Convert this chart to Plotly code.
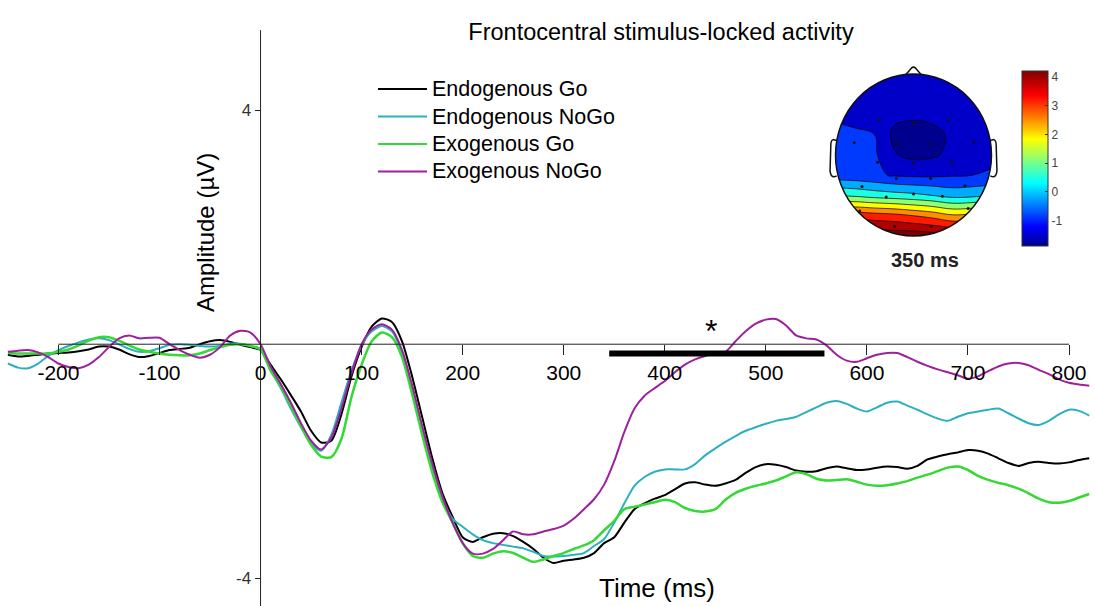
import numpy as np
import plotly.graph_objects as go

# ---------------------------------------------------------------- ERP data
time_ms = list(range(-250, 821, 10))

endo_go = [
    -0.18, -0.21, -0.20, -0.18, -0.16, -0.15, -0.14, -0.12, -0.09, -0.04,
    -0.04, -0.09, -0.17, -0.22, -0.20, -0.15, -0.10, -0.08, -0.06, 0.00,
    0.05, 0.07, 0.04, -0.01, -0.05,
    -0.10, -0.35, -0.60, -0.87, -1.15, -1.48, -1.68, -1.65, -1.20, -0.55,
    -0.05, 0.30, 0.44, 0.38, 0.05, -0.55, -1.25, -1.95, -2.55, -2.95,
    -3.30, -3.38, -3.30, -3.24, -3.23, -3.28, -3.38, -3.50, -3.65, -3.74,
    -3.70, -3.68, -3.65, -3.57, -3.40, -3.30, -3.05, -2.82, -2.72, -2.64,
    -2.58, -2.48, -2.38, -2.36, -2.40, -2.42, -2.38, -2.32, -2.20, -2.10,
    -2.05, -2.06, -2.10, -2.16, -2.18, -2.17, -2.12, -2.09, -2.12, -2.15,
    -2.14, -2.11, -2.09, -2.10, -2.13, -2.08, -1.97, -1.92, -1.88, -1.85,
    -1.81, -1.82, -1.87, -1.95, -2.03, -2.08, -2.03, -2.01, -2.03, -2.04,
    -2.02, -1.98, -1.95,
]

endo_nogo = [
    -0.33, -0.40, -0.41, -0.33, -0.20, -0.10, -0.03, 0.03, 0.08, 0.10,
    0.07, 0.00, -0.08, -0.13, -0.12, -0.07, -0.01, 0.00, -0.01, -0.03,
    -0.04, -0.03, 0.01, 0.01, -0.03,
    -0.10, -0.45, -0.75, -1.10, -1.42, -1.70, -1.82, -1.55, -1.00, -0.45,
    -0.02, 0.22, 0.31, 0.22, -0.15, -0.80, -1.50, -2.15, -2.65, -2.98,
    -3.12, -3.25, -3.35, -3.40, -3.43, -3.46, -3.49, -3.55, -3.62, -3.63,
    -3.62, -3.60, -3.57, -3.45, -3.33, -3.05, -2.72, -2.42, -2.27, -2.18,
    -2.14, -2.14, -2.14, -2.05, -1.90, -1.78, -1.67, -1.57, -1.48, -1.42,
    -1.36, -1.31, -1.28, -1.24, -1.16, -1.08, -1.00, -0.97, -1.02, -1.10,
    -1.15, -1.08, -1.00, -0.98, -1.05, -1.12, -1.20, -1.27, -1.31, -1.24,
    -1.18, -1.15, -1.12, -1.10, -1.18, -1.27, -1.35, -1.38, -1.31, -1.20,
    -1.12, -1.14, -1.22,
]

exo_go = [
    -0.15, -0.16, -0.16, -0.16, -0.16, -0.13, -0.09, -0.02, 0.06, 0.12,
    0.12, 0.06, -0.02, -0.09, -0.13, -0.16, -0.18, -0.19, -0.19, -0.16,
    -0.10, -0.05, -0.01, 0.00, -0.03,
    -0.08, -0.45, -0.72, -1.05, -1.40, -1.72, -1.92, -1.93, -1.62, -0.90,
    -0.35, 0.05, 0.20, 0.12, -0.22, -0.85, -1.55, -2.20, -2.70, -3.05,
    -3.40, -3.62, -3.65, -3.58, -3.54, -3.57, -3.65, -3.72, -3.68, -3.62,
    -3.57, -3.50, -3.44, -3.35, -3.18, -3.02, -2.82, -2.78, -2.74, -2.70,
    -2.66, -2.70, -2.80, -2.85, -2.86, -2.82, -2.66, -2.54, -2.47, -2.42,
    -2.38, -2.33, -2.26, -2.19, -2.22, -2.30, -2.33, -2.32, -2.31, -2.35,
    -2.40, -2.42, -2.41, -2.38, -2.34, -2.28, -2.23, -2.17, -2.11, -2.09,
    -2.15, -2.25, -2.32, -2.37, -2.41, -2.47, -2.55, -2.64, -2.70, -2.71,
    -2.68, -2.62, -2.56,
]

exo_nogo = [
    -0.13, -0.11, -0.10, -0.14, -0.22, -0.33, -0.39, -0.41, -0.35, -0.22,
    -0.05, 0.10, 0.15, 0.10, 0.11, 0.11, 0.00, -0.10, -0.18, -0.23,
    -0.18, -0.05, 0.15, 0.23, 0.20,
    0.00, -0.38, -0.68, -1.00, -1.35, -1.65, -1.80, -1.60, -1.10, -0.50,
    0.00, 0.25, 0.34, 0.25, -0.10, -0.70, -1.40, -2.05, -2.60, -3.05,
    -3.40, -3.58, -3.58, -3.50, -3.35, -3.20, -3.25, -3.25, -3.20, -3.16,
    -3.10, -2.98, -2.82, -2.65, -2.40, -2.00, -1.50, -1.10, -0.88, -0.75,
    -0.63, -0.48, -0.35, -0.26, -0.20, -0.17, -0.13, 0.05, 0.22, 0.35,
    0.42, 0.43, 0.32, 0.15, 0.10, 0.08, -0.02, -0.18, -0.28, -0.30,
    -0.24, -0.18, -0.15, -0.15, -0.22, -0.30, -0.37, -0.43, -0.48, -0.53,
    -0.59, -0.55, -0.46, -0.38, -0.33, -0.32, -0.36, -0.44, -0.51, -0.60,
    -0.66, -0.69, -0.71,
]

series_names = ["Endogenous Go", "Endogenous NoGo", "Exogenous Go", "Exogenous NoGo"]
series_values = [endo_go, endo_nogo, exo_go, exo_nogo]
series_colors = ["#000000", "#2BB0C2", "#35D835", "#9E209C"]
series_widths = [2, 2, 2.5, 2]

x_ticks = list(range(-200, 801, 100))
y_ticks = [-4, 4]

# significant window (Exogenous NoGo vs others)
sig_start, sig_end, sig_level = 345, 558, -0.16
star_time, star_level = 446, 0.22

# ------------------------------------------------ scalp map at 350 ms
topo_x = [-1.0, -0.75, -0.5, -0.25, 0.0, 0.25, 0.5, 0.75, 1.0]
topo_y = [-1.0, -0.75, -0.5, -0.25, 0.0, 0.25, 0.5, 0.75, 1.0]
topo_z = [
    [4.2, 4.2, 4.2, 4.2, 4.2, 4.1, 4.0, 3.9, 3.8],
    [2.9, 3.0, 2.9, 2.8, 2.6, 2.4, 2.1, 2.2, 2.4],
    [0.8, 0.7, 0.55, 0.45, 0.35, 0.2, 0.0, 0.05, 0.2],
    [-0.75, -0.8, -0.9, -1.05, -1.1, -1.1, -1.05, -1.0, -0.95],
    [-0.8, -0.82, -0.9, -1.55, -1.75, -1.68, -1.45, -1.2, -1.1],
    [-0.85, -0.9, -1.0, -1.72, -1.85, -1.75, -1.5, -1.25, -1.1],
    [-1.1, -1.2, -1.35, -1.45, -1.5, -1.45, -1.35, -1.2, -1.15],
    [-1.2, -1.25, -1.3, -1.35, -1.4, -1.35, -1.3, -1.25, -1.2],
    [-1.3, -1.3, -1.35, -1.4, -1.4, -1.4, -1.35, -1.3, -1.3],
]
elec_x = [-0.91, -0.44, 0.0, 0.45, 0.91, -0.76, -0.22, 0.23, 0.77, -0.46, 0.0, 0.49,
          -0.22, 0.22, -0.66, 0.66, -0.35, 0.0, 0.37, -0.69, 0.70, -0.24, 0.23]
elec_y = [0.50, 0.43, 0.39, 0.43, 0.50, 0.15, 0.14, 0.14, 0.16, -0.09, -0.10, -0.09,
          -0.29, -0.29, -0.39, -0.38, -0.52, -0.48, -0.51, -0.69, -0.66, -0.88, -0.88]
cbar_ticks = [-1, 0, 1, 2, 3, 4]
c_min, c_max = -1.87, 4.21
topo_label = "350 ms"

jet = [[0.0, "#00008F"], [0.11, "#0000FF"], [0.36, "#00FFFF"],
       [0.61, "#FFFF00"], [0.86, "#FF0000"], [1.0, "#800000"]]

# ------------------------------------------------------------ geometry
W, H = 1095, 606
X_RANGE = [-257.8, 825.7]
Y_RANGE = [-4.475, 5.884]
y_axis_top = 5.37
FONT = "Liberation Sans, Arial, sans-serif"


def px_x(p):
    return p / W


def px_y(p):
    return 1 - p / H


fig = go.Figure()

for name, vals, col, lw in zip(series_names, series_values, series_colors, series_widths):
    fig.add_trace(go.Scatter(
        x=time_ms, y=vals, name=name, mode="lines", showlegend=False,
        line=dict(color=col, width=lw, shape="spline", smoothing=0.7),
    ))

# scalp map inset
fig.add_trace(go.Contour(
    x=topo_x, y=topo_y, z=topo_z, xaxis="x2", yaxis="y2",
    colorscale=jet, zmin=c_min, zmax=c_max, zauto=False,
    contours=dict(start=-1.6, end=4.4, size=0.6, coloring="fill"),
    line=dict(color="black", width=0.7, smoothing=1.2),
    showscale=False, showlegend=False, hoverinfo="skip",
))
fig.add_trace(go.Scatter(
    x=elec_x, y=elec_y, xaxis="x2", yaxis="y2", mode="markers",
    marker=dict(color="#111111", size=3), showlegend=False, hoverinfo="skip",
))
# carrier for the colour bar (point sits outside the inset range)
fig.add_trace(go.Scatter(
    x=[5], y=[5], xaxis="x2", yaxis="y2", mode="markers",
    marker=dict(color=[c_min], colorscale=jet, cmin=c_min, cmax=c_max, size=1,
                showscale=True,
                colorbar=dict(
                    x=px_x(1021.7), xanchor="left", xpad=0,
                    y=px_y(158.2), yanchor="middle", ypad=0,
                    len=175, lenmode="pixels", thickness=26, thicknessmode="pixels",
                    outlinewidth=1, outlinecolor="#333333",
                    tickvals=cbar_ticks, ticktext=[str(v) for v in cbar_ticks],
                    ticks="inside", ticklen=3, tickcolor="#333333",
                    tickfont=dict(size=12, color="#444444", family=FONT),
                )),
    showlegend=False, hoverinfo="skip",
))

# inset frame: head centre and radii in pixels
hc_x, hc_y, hr_x, hr_y = 913.5, 155.0, 78.0, 81.0
span = 1.3
x2_dom = [px_x(hc_x - span * hr_x), px_x(hc_x + span * hr_x)]
y2_dom = [px_y(hc_y + span * hr_y), px_y(hc_y - span * hr_y)]

# white mask with circular hole that trims the map to the scalp
theta = np.linspace(0, 2 * np.pi, 121)
hole = " ".join(f"{'M' if i == 0 else 'L'} {np.cos(t):.4f},{np.sin(t):.4f}" for i, t in enumerate(theta))
mask_path = f"M {-span},{-span} L {span},{-span} L {span},{span} L {-span},{span} Z " + hole + " Z"

shapes = [
    dict(type="line", xref="x", yref="y", x0=x_ticks[0], x1=x_ticks[-1], y0=0, y1=0,
         line=dict(color="#222222", width=1)),
    dict(type="line", xref="x", yref="y", x0=0, x1=0, y0=Y_RANGE[0], y1=y_axis_top,
         line=dict(color="#222222", width=1)),
    dict(type="line", xref="x", yref="y", x0=sig_start, x1=sig_end, y0=sig_level, y1=sig_level,
         line=dict(color="black", width=6)),
    dict(type="path", xref="x2", yref="y2", path=mask_path, fillrule="evenodd",
         fillcolor="white", line=dict(width=0), layer="above"),
    dict(type="circle", xref="x2", yref="y2", x0=-1, x1=1, y0=-1, y1=1,
         line=dict(color="#111111", width=1.5)),
    dict(type="path", xref="x2", yref="y2",
         path="M -0.10,0.99 L -0.025,1.075 Q 0,1.095 0.025,1.075 L 0.10,0.99",
         line=dict(color="#111111", width=1.5)),
    dict(type="path", xref="x2", yref="y2",
         path="M -0.985,0.18 L -1.03,0.19 Q -1.06,0.18 -1.06,0.12 L -1.07,-0.20 "
              "Q -1.06,-0.27 -1.02,-0.27 L -0.985,-0.26",
         line=dict(color="#111111", width=1.5)),
    dict(type="path", xref="x2", yref="y2",
         path="M 0.985,0.18 L 1.03,0.19 Q 1.06,0.18 1.06,0.12 L 1.07,-0.20 "
              "Q 1.06,-0.27 1.02,-0.27 L 0.985,-0.26",
         line=dict(color="#111111", width=1.5)),
]

annotations = [
    dict(text="Time (ms)", xref="paper", yref="paper", x=px_x(657), y=px_y(588),
         showarrow=False, font=dict(size=26, color="black", family=FONT),
         xanchor="center", yanchor="middle"),
    dict(text="Amplitude (µV)", xref="paper", yref="paper", x=px_x(205), y=px_y(233),
         showarrow=False, textangle=-90, font=dict(size=24, color="black", family=FONT),
         xanchor="center", yanchor="middle"),
    dict(text="*", xref="x", yref="y", x=star_time, y=star_level, showarrow=False,
         font=dict(size=32, color="black", family=FONT), xanchor="center", yanchor="middle"),
    dict(text=f"<b>{topo_label}</b>", xref="paper", yref="paper", x=px_x(925), y=px_y(260),
         showarrow=False, font=dict(size=20, color="#222222", family=FONT),
         xanchor="center", yanchor="middle"),
]

# legend: sample line plus label for each condition
legend_rows_px = [89, 116.5, 144, 171.5]
for name, col, row in zip(series_names, series_colors, legend_rows_px):
    shapes.append(dict(type="line", xref="paper", yref="paper",
                       x0=px_x(378), x1=px_x(427), y0=px_y(row), y1=px_y(row),
                       line=dict(color=col, width=2)))
    annotations.append(dict(text=name, xref="paper", yref="paper", x=px_x(430), y=px_y(row),
                            showarrow=False, xanchor="left", yanchor="middle",
                            font=dict(size=21.5, color="black", family=FONT)))

fig.update_layout(
    width=W, height=H,
    margin=dict(l=0, r=0, t=0, b=0),
    paper_bgcolor="white", plot_bgcolor="white",
    font=dict(family=FONT, color="black"),
    title=dict(text="Frontocentral stimulus-locked activity", x=px_x(661), y=px_y(32),
               xref="paper", yref="container", xanchor="center", yanchor="middle",
               font=dict(size=23.5, color="black", family=FONT)),
    xaxis=dict(domain=[0, 1], range=X_RANGE, anchor="free",
               position=(0 - Y_RANGE[0]) / (Y_RANGE[1] - Y_RANGE[0]),
               showline=False, zeroline=False, showgrid=False,
               tickvals=x_ticks, ticktext=[str(v) for v in x_ticks],
               ticks="outside", ticklen=10, tickwidth=1, tickcolor="#222222",
               tickfont=dict(size=21, color="black", family=FONT)),
    yaxis=dict(domain=[0, 1], range=Y_RANGE, anchor="free",
               position=(0 - X_RANGE[0]) / (X_RANGE[1] - X_RANGE[0]),
               showline=False, zeroline=False, showgrid=False,
               tickvals=y_ticks, ticktext=[str(v) for v in y_ticks],
               ticks="outside", ticklen=6, tickwidth=1, tickcolor="#222222",
               tickfont=dict(size=17, color="#333333", family=FONT)),
    xaxis2=dict(domain=x2_dom, range=[-span, span], visible=False, anchor="y2"),
    yaxis2=dict(domain=y2_dom, range=[-span, span], visible=False, anchor="x2"),
    shapes=shapes,
    annotations=annotations,
    showlegend=False,
)

fig.write_html("out.html")
